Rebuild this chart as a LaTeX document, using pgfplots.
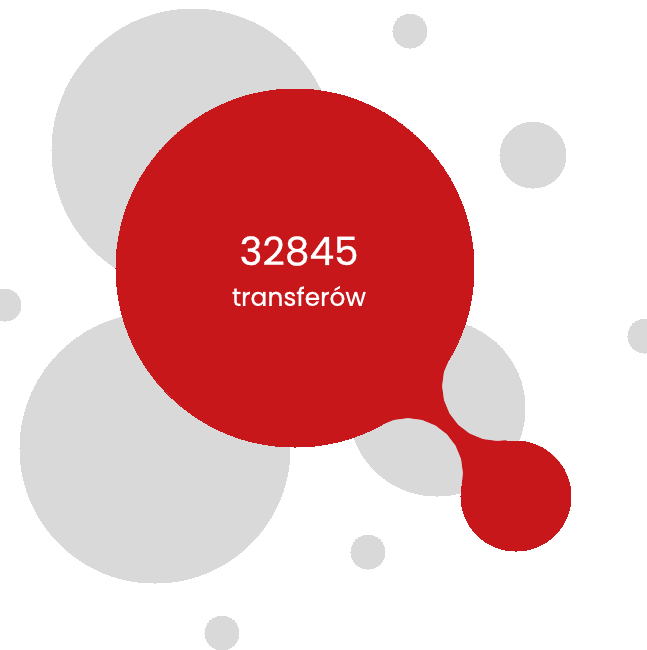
\documentclass[border=0pt]{standalone}
\usepackage{pgfplots}
\pgfplotsset{compat=1.18}
\usepackage{pgfplotstable}
\usepackage{fontspec}
\setmainfont{Poppins}[BoldFont=Poppins, BoldFeatures={FakeBold=0.6}]
\definecolor{greyc}{HTML}{D9D9D9}
\definecolor{redc}{HTML}{C8171B}
\pgfplotstableread{
x y r
193 150 141
155 448 135
437 408 88
410 31 17
533 155 33
5 305 16
645 336 17
368 552 17
222 633 17
}\greytab
\pgfplotstableread{
x y r
295 268 179
516 496 55
}\redtab
\begin{document}
\begin{tikzpicture}
\begin{axis}[
  width=323.5pt, height=325pt, scale only axis,
  xmin=0, xmax=647, ymin=0, ymax=650, y dir=reverse,
  hide axis, clip=true, clip mode=individual,
]
\addplot[scatter, only marks, mark=*,
  mark options={draw=greyc, fill=greyc, line width=0pt},
  scatter/use mapped color={draw=greyc, fill=greyc},
  visualization depends on={\thisrow{r}*0.5 \as \rad},
  scatter/@pre marker code/.append style={/tikz/mark size=\rad}]
  table[x=x, y=y] {\greytab};
\addplot[scatter, only marks, mark=*,
  mark options={draw=redc, fill=redc, line width=0pt},
  scatter/use mapped color={draw=redc, fill=redc},
  visualization depends on={\thisrow{r}*0.5 \as \rad},
  scatter/@pre marker code/.append style={/tikz/mark size=\rad}]
  table[x=x, y=y] {\redtab};
\addplot[fill=redc, draw=none, mark=none] coordinates {
(295,268) (449.6,358.3) (443.9,371.8) (442,386) (443.9,400.2) (449.4,413.5)
(458.1,424.9) (469.5,433.6) (482.8,439.1) (497,441) (506.4,440.2)
(516,496) (461.8,484.5) (463,473) (461.1,458.8) (455.6,445.5) (446.9,434.1)
(435.5,425.4) (422.2,419.9) (408,418) (393.8,419.9) (381.5,424.8)
} -- cycle;
\node[text=white, font=\bfseries\fontsize{19.5}{23}\selectfont] at (axis cs:299,251) {32845};
\node[text=white, font=\bfseries\fontsize{12.5}{15}\selectfont] at (axis cs:299,296) {transferów};
\end{axis}
\pgfresetboundingbox
\path (current axis.south west) rectangle (current axis.north east);
\end{tikzpicture}
\end{document}
